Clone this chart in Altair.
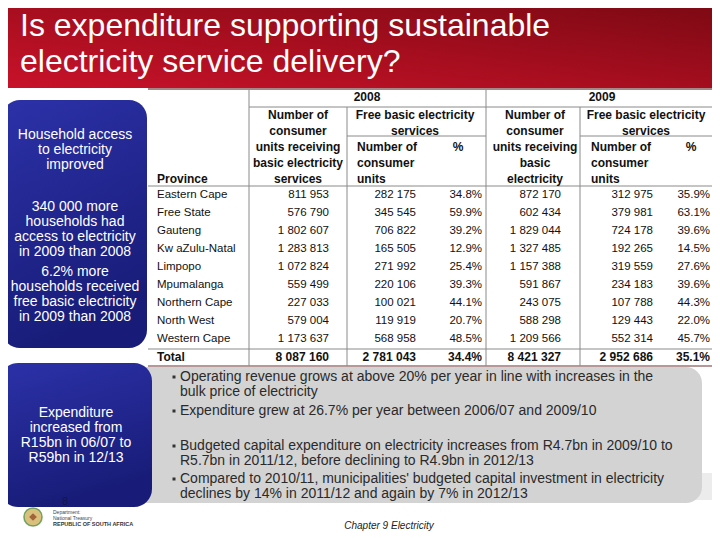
import altair as alt
import pandas as pd

# ---------------- data ----------------
title_lines = ["Is expenditure supporting sustainable", "electricity service delivery?"]

provinces = ["Eastern Cape", "Free State", "Gauteng", "Kw aZulu-Natal", "Limpopo",
             "Mpumalanga", "Northern Cape", "North West", "Western Cape"]
units_2008 = [811953, 576790, 1802607, 1283813, 1072824, 559499, 227033, 579004, 1173637]
fbe_2008 = [282175, 345545, 706822, 165505, 271992, 220106, 100021, 119919, 568958]
pct_2008 = [34.8, 59.9, 39.2, 12.9, 25.4, 39.3, 44.1, 20.7, 48.5]
units_2009 = [872170, 602434, 1829044, 1327485, 1157388, 591867, 243075, 588298, 1209566]
fbe_2009 = [312975, 379981, 724178, 192265, 319559, 234183, 107788, 129443, 552314]
pct_2009 = [35.9, 63.1, 39.6, 14.5, 27.6, 39.6, 44.3, 22.0, 45.7]
total_label = "Total"
totals_2008 = [8087160, 2781043, 34.4]
totals_2009 = [8421327, 2952686, 35.1]

years = ["2008", "2009"]
hdr_units_2008 = ["Number of", "consumer", "units receiving", "basic electricity", "services"]
hdr_units_2009 = ["Number of", "consumer", "units receiving", "basic", "electricity"]
hdr_fbe = ["Free basic electricity", "services"]
hdr_num = ["Number of", "consumer", "units"]
hdr_pct = "%"
hdr_province = "Province"

box1_paragraphs = [["Household access", "to electricity", "improved"],
                   ["340 000 more", "households had", "access to electricity", "in 2009 than 2008"],
                   ["6.2% more", "households received", "free basic electricity", "in 2009 than  2008"]]
box2_lines = ["Expenditure", "increased from", "R15bn in 06/07 to", "R59bn in 12/13"]
bullets = [["Operating revenue grows at above 20% per year in line with increases in the",
            "bulk price of electricity"],
           ["Expenditure grew at 26.7% per year between 2006/07 and 2009/10"],
           ["Budgeted capital expenditure on electricity increases from R4.7bn in 2009/10 to",
            "R5.7bn in 2011/12, before declining to R4.9bn in 2012/13"],
           ["Compared to 2010/11, municipalities' budgeted capital investment in electricity",
            "declines by 14% in 2011/12 and again by 7% in 2012/13"]]
footer_text = "Chapter 9  Electricity"
page_number = "8"
logo_lines = ["Department:", "National Treasury", "REPUBLIC OF SOUTH AFRICA"]

# ---------------- layout ----------------
FONT = "Liberation Sans"
X0, X1, Y0, Y1 = 8, 712, 8, 532
xs = alt.Scale(domain=[X0, X1], range=[0, X1 - X0], nice=False, zero=False)
ys = alt.Scale(domain=[Y0, Y1], range=[0, Y1 - Y0], nice=False, zero=False)


def X(f="x"):
    return alt.X(f"{f}:Q", scale=xs, axis=None)


def Y(f="y"):
    return alt.Y(f"{f}:Q", scale=ys, axis=None)


def rects(rows, **kw):
    df = pd.DataFrame(rows, columns=["x", "x2", "y", "y2"])
    return alt.Chart(df).mark_rect(**kw).encode(x=X("x"), x2=alt.X2("x2"), y=Y("y"), y2=alt.Y2("y2"))


def rules(rows, **kw):
    df = pd.DataFrame(rows, columns=["x", "x2", "y", "y2"])
    return alt.Chart(df).mark_rule(**kw).encode(x=X("x"), x2=alt.X2("x2"), y=Y("y"), y2=alt.Y2("y2"))


def texts(rows, **kw):
    df = pd.DataFrame(rows, columns=["x", "y", "t"])
    base = dict(font=FONT, baseline="middle")
    base.update(kw)
    return alt.Chart(df).mark_text(**base).encode(x=X("x"), y=Y("y"), text="t:N")


def fmt_int(v):
    return f"{v:,}".replace(",", " ")


def fmt_pct(v):
    return f"{v:.1f}%"


layers = []

# title band
layers.append(rects([(0, 720, 0, 88)], color={
    "gradient": "linear", "x1": 0, "y1": 1, "x2": 1, "y2": 0,
    "stops": [{"offset": 0, "color": "#c8122a"}, {"offset": 0.45, "color": "#a80e1f"},
              {"offset": 1, "color": "#7a0913"}]}))
layers.append(texts([(20, 36, title_lines[0]), (20, 72, title_lines[1])],
                    baseline="alphabetic", align="left", fontSize=32, color="white"))

# table grid
GRID = "#8a8a8a"
layers.append(rules([(148, 720, 89, 89)], color="#a48888", strokeWidth=2))
layers.append(rules([(148, 720, 366, 366)], color="#a07474", strokeWidth=1.5))
layers.append(rules([(249, 720, 107, 107), (347, 486, 136, 136), (580, 720, 136, 136),
                     (148, 720, 186, 186), (148, 720, 349, 349)], color=GRID, strokeWidth=1))
layers.append(rules([(249, 249, 89, 366), (347, 347, 107, 366), (486, 486, 89, 366),
                     (580, 580, 107, 366)], color=GRID, strokeWidth=1))

# table headers
HL = [115 + 16 * k for k in range(5)]
hdr_center = [(367, 97, years[0]), (602, 97, years[1])]
hdr_center += [(298, HL[k], s) for k, s in enumerate(hdr_units_2008)]
hdr_center += [(535, HL[k], s) for k, s in enumerate(hdr_units_2009)]
hdr_center += [(415, HL[k], s) for k, s in enumerate(hdr_fbe)]
hdr_center += [(646, HL[k], s) for k, s in enumerate(hdr_fbe)]
hdr_center += [(458, HL[2], hdr_pct), (691, HL[2], hdr_pct)]
layers.append(texts(hdr_center, align="center", fontSize=12, fontWeight="bold", color="#111"))
hdr_left = [(357, HL[2 + k], s) for k, s in enumerate(hdr_num)]
hdr_left += [(591, HL[2 + k], s) for k, s in enumerate(hdr_num)]
hdr_left += [(157, HL[4], hdr_province)]
layers.append(texts(hdr_left, align="left", fontSize=12, fontWeight="bold", color="#111"))

# table body
ROW_Y0, ROW_H = 195, 18
RIGHTS = [329, 416, 482, 561, 653, 710]
body_left, body_right = [], []
for i, p in enumerate(provinces):
    y = ROW_Y0 + ROW_H * i
    body_left.append((157, y, p))
    vals = [fmt_int(units_2008[i]), fmt_int(fbe_2008[i]), fmt_pct(pct_2008[i]),
            fmt_int(units_2009[i]), fmt_int(fbe_2009[i]), fmt_pct(pct_2009[i])]
    body_right += [(RIGHTS[c], y, v) for c, v in enumerate(vals)]
layers.append(texts(body_left, align="left", fontSize=11.5, color="#111"))
layers.append(texts(body_right, align="right", fontSize=11.5, color="#111"))
yt = ROW_Y0 + ROW_H * len(provinces)
tot_vals = [fmt_int(totals_2008[0]), fmt_int(totals_2008[1]), fmt_pct(totals_2008[2]),
            fmt_int(totals_2009[0]), fmt_int(totals_2009[1]), fmt_pct(totals_2009[2])]
layers.append(texts([(157, yt, total_label)], align="left", fontSize=12, fontWeight="bold", color="#111"))
layers.append(texts([(RIGHTS[c], yt, v) for c, v in enumerate(tot_vals)],
                    align="right", fontSize=12, fontWeight="bold", color="#111"))

# grey bullet box
layers.append(rects([(600, 720, 473, 500)], color="#ececec"))
layers.append(rects([(120, 702, 367, 503)], color="#d3d3d3", cornerRadius=16))
BUL_Y = [377, 411, 446, 479]
LH = 14.7
bul_txt, bul_pts = [], []
for b, lines in enumerate(bullets):
    bul_pts.append((174, BUL_Y[b], ""))
    for k, s in enumerate(lines):
        bul_txt.append((180, BUL_Y[b] + LH * k, s))
layers.append(alt.Chart(pd.DataFrame(bul_pts, columns=["x", "y", "t"])).mark_square(
    size=9, color="#333", opacity=1).encode(x=X(), y=Y()))
layers.append(texts(bul_txt, align="left", fontSize=14, color="#2a2a2a"))

# blue boxes
blue = {"gradient": "linear", "x1": 0, "y1": 0, "x2": 0.3, "y2": 1,
        "stops": [{"offset": 0, "color": "#2c31a8"}, {"offset": 1, "color": "#181c78"}]}
layers.append(rects([(2, 147, 100, 348)], color=blue, cornerRadius=18))
layers.append(rects([(0, 152, 363, 507)], color=blue, cornerRadius=18))
b1 = []
PARA_Y = [135, 207, 272]
for p, lines in enumerate(box1_paragraphs):
    for k, s in enumerate(lines):
        b1.append((75, PARA_Y[p] + 15 * k, s))
b1 += [(76, 413 + 15 * k, s) for k, s in enumerate(box2_lines)]
layers.append(texts(b1, align="center", fontSize=14, color="white"))

# page number, logo, footer
layers.append(texts([(65, 502, page_number)], align="center", fontSize=11, color="#14164a"))
logo = pd.DataFrame([(33, 517, "")], columns=["x", "y", "t"])
layers.append(alt.Chart(logo).mark_point(shape="circle", filled=True, size=330, color="#c9a646").encode(x=X(), y=Y()))
layers.append(alt.Chart(logo).mark_point(shape="circle", filled=False, size=330, color="#3f8a3a",
                                         strokeWidth=1.5).encode(x=X(), y=Y()))
layers.append(alt.Chart(logo).mark_point(shape="diamond", filled=True, size=60, color="#8a3b1c").encode(x=X(), y=Y()))
layers.append(texts([(53, 512, logo_lines[0]), (53, 518, logo_lines[1])], align="left", fontSize=5, color="#444"))
layers.append(texts([(53, 524, logo_lines[2])], align="left", fontSize=5.5, fontWeight="bold", color="#333"))
layers.append(texts([(389, 526, footer_text)], align="center", fontSize=10, fontStyle="italic", color="#222"))

chart = alt.layer(*layers).properties(
    width=X1 - X0, height=Y1 - Y0, padding=0, autosize=alt.AutoSizeParams(type="none"),
    background="white"
).configure_view(stroke=None)

chart.save("out.html", embed_options={"renderer": "svg", "actions": False})
